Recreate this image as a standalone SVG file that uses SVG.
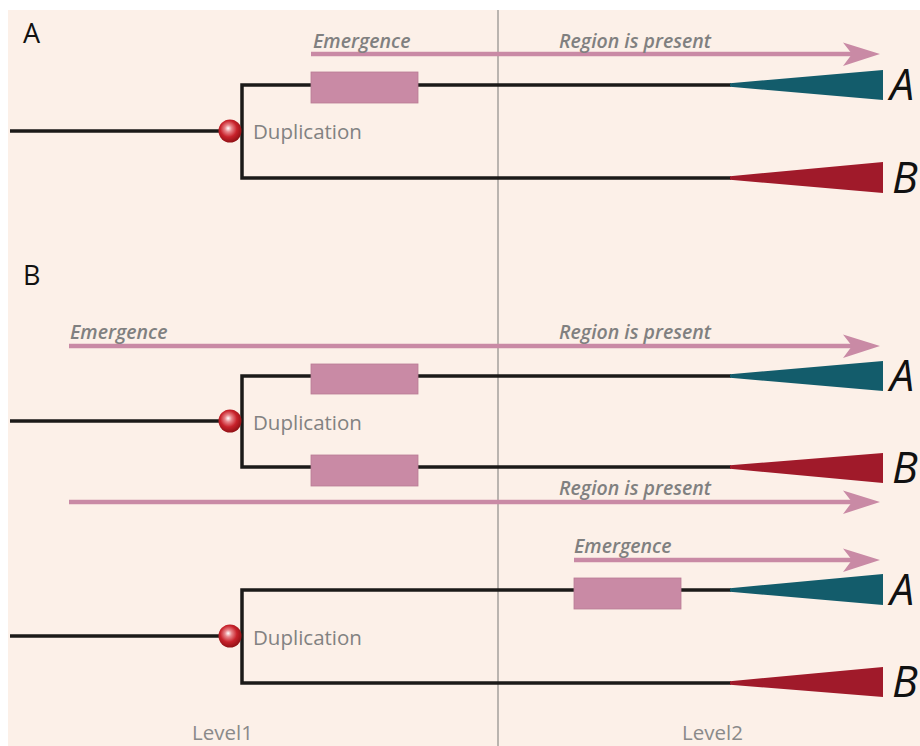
<svg xmlns="http://www.w3.org/2000/svg" width="920" height="746" viewBox="0 0 920 746">
  <style>
    .branch { fill: none; stroke: #1b1a18; stroke-width: 3.5; stroke-linejoin: miter; }
    .span { fill: none; stroke: #c98aa5; stroke-width: 4.5; }
    .box { fill: #c98aa5; stroke: #b97a95; stroke-width: 0.8; }
    .tealTip { fill: #135c6b; }
    .redTip { fill: #a01a2a; }
    .note { font-family: "Open Sans", "Liberation Sans", sans-serif; font-style: italic; font-weight: 600; font-size: 19.5px; fill: #808080; }
    .dup { font-family: "Open Sans", "Liberation Sans", sans-serif; font-size: 20.5px; fill: #828282; }
    .leaf { font-family: "Open Sans", "Liberation Sans", sans-serif; font-style: italic; font-size: 43px; fill: #111; }
    .panel { font-family: "Open Sans", "Liberation Sans", sans-serif; font-size: 27px; fill: #111; }
    .level { font-family: "Open Sans", "Liberation Sans", sans-serif; font-size: 20.5px; fill: #8a8a8a; }
  </style>
  <defs>
    <radialGradient id="ball" cx="0.45" cy="0.42" r="0.6" fx="0.42" fy="0.38">
      <stop offset="0" stop-color="#ffffff"/>
      <stop offset="0.25" stop-color="#e8868b"/>
      <stop offset="0.6" stop-color="#c8222b"/>
      <stop offset="1" stop-color="#8e1014"/>
    </radialGradient>
    <!-- barbed arrow head, tip at local (0,0) -->
    <path id="head" d="M 0 0 L -37 -11.5 L -28 0 L -37 12 Z" fill="#c98aa5"/>
  </defs>

  <!-- backdrop -->
  <rect x="0" y="0" width="920" height="746" fill="#ffffff"/>
  <rect x="8" y="10" width="912" height="736" fill="#fcf0e8"/>

  <!-- level divider -->
  <line x1="498" y1="10" x2="498" y2="746" stroke="#a5a09c" stroke-width="1.5"/>

  <!-- panel letters and level captions -->
  <text class="panel" x="23" y="43">A</text>
  <text class="panel" x="23" y="285">B</text>
  <text class="level" x="192" y="740">Level1</text>
  <text class="level" x="682" y="740">Level2</text>

  <!-- connectors: tree branches and region spans -->
  <g id="connectors">
    <!-- panel A -->
    <path class="branch" d="M 10 131 H 230"/>
    <path class="branch" d="M 731 85 H 242 V 178 H 731"/>
    <path class="span" d="M 311 54 H 853"/>
    <use href="#head" x="880" y="54"/>
    <!-- panel B -->
    <path class="branch" d="M 10 421 H 230"/>
    <path class="branch" d="M 731 376 H 242 V 467 H 731"/>
    <path class="span" d="M 69 346 H 853"/>
    <use href="#head" x="880" y="346"/>
    <path class="span" d="M 69 502 H 853"/>
    <use href="#head" x="880" y="502"/>
    <!-- panel C -->
    <path class="branch" d="M 10 636 H 230"/>
    <path class="branch" d="M 731 590 H 242 V 683 H 731"/>
    <path class="span" d="M 574 560 H 853"/>
    <use href="#head" x="880" y="560"/>
  </g>

  <!-- span labels -->
  <g id="labels">
    <text class="note" x="313" y="48">Emergence</text>
    <text class="note" x="559" y="48">Region is present</text>
    <text class="note" x="70" y="339">Emergence</text>
    <text class="note" x="559" y="339">Region is present</text>
    <text class="note" x="559" y="495">Region is present</text>
    <text class="note" x="574" y="553">Emergence</text>
  </g>

  <!-- panel A nodes -->
  <g id="dupA">
    <circle cx="230" cy="131" r="11.5" fill="url(#ball)"/>
    <text class="dup" x="253" y="139">Duplication</text>
  </g>
  <g id="regionA1"><rect class="box" x="311" y="72" width="107" height="31"/></g>
  <g id="leafA1">
    <polygon class="tealTip" points="730,83.3 883,70 883,100 730,86.7"/>
    <text class="leaf" x="890" y="100">A</text>
  </g>
  <g id="leafB1">
    <polygon class="redTip" points="730,176.3 883,162 883,193 730,179.7"/>
    <text class="leaf" x="892" y="193">B</text>
  </g>

  <!-- panel B nodes -->
  <g id="dupB">
    <circle cx="230" cy="421" r="11.5" fill="url(#ball)"/>
    <text class="dup" x="253" y="430">Duplication</text>
  </g>
  <g id="regionB1"><rect class="box" x="311" y="364" width="107" height="30"/></g>
  <g id="regionB2"><rect class="box" x="311" y="455" width="107" height="31"/></g>
  <g id="leafA2">
    <polygon class="tealTip" points="730,374.3 883,361 883,391 730,377.7"/>
    <text class="leaf" x="890" y="391">A</text>
  </g>
  <g id="leafB2">
    <polygon class="redTip" points="730,465.3 883,453 883,483 730,468.7"/>
    <text class="leaf" x="892" y="483">B</text>
  </g>

  <!-- panel C nodes -->
  <g id="dupC">
    <circle cx="230" cy="636" r="11.5" fill="url(#ball)"/>
    <text class="dup" x="253" y="645">Duplication</text>
  </g>
  <g id="regionC1"><rect class="box" x="574" y="578" width="107" height="31"/></g>
  <g id="leafA3">
    <polygon class="tealTip" points="730,588.3 883,574 883,605 730,591.7"/>
    <text class="leaf" x="890" y="605">A</text>
  </g>
  <g id="leafB3">
    <polygon class="redTip" points="730,681.3 883,667 883,697 730,684.7"/>
    <text class="leaf" x="892" y="697">B</text>
  </g>
</svg>
